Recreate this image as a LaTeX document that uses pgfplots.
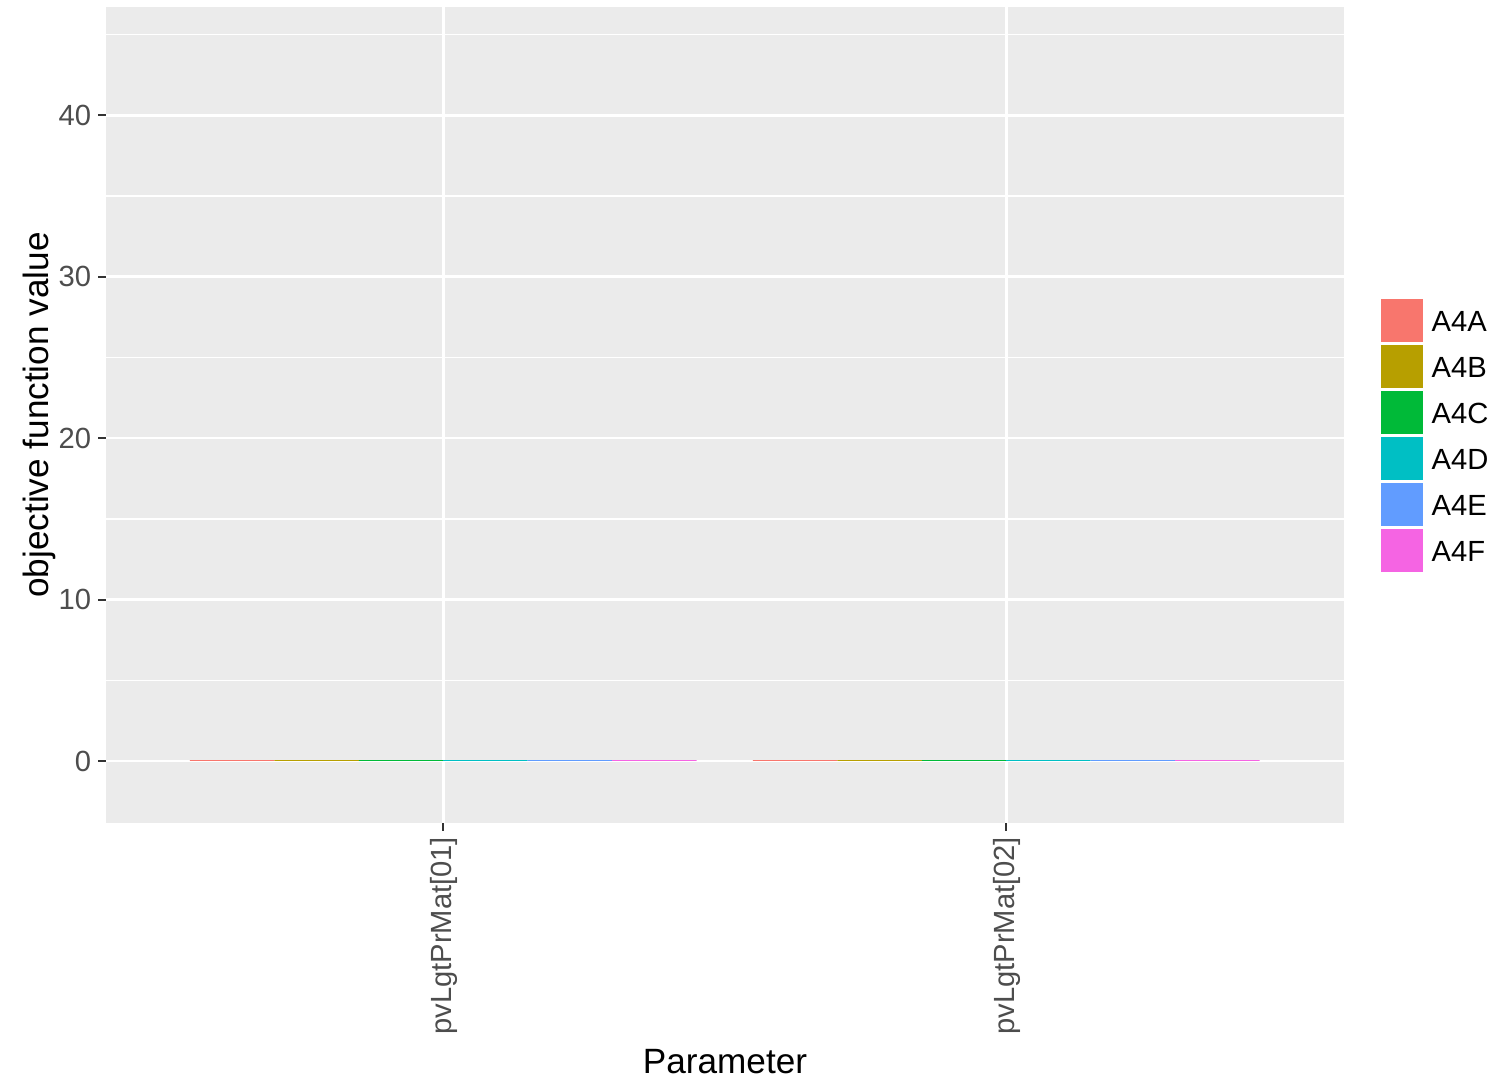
\documentclass[border=0pt]{standalone}
\usepackage{fontspec}
\setmainfont{Liberation Sans}
\usepackage{pgfplots}
\pgfplotsset{compat=1.18}
\definecolor{cA}{HTML}{F8766D}
\definecolor{cB}{HTML}{B79F00}
\definecolor{cC}{HTML}{00BA38}
\definecolor{cD}{HTML}{00BFC4}
\definecolor{cE}{HTML}{619CFF}
\definecolor{cF}{HTML}{F564E3}
\definecolor{bg}{HTML}{EBEBEB}
\definecolor{tickc}{HTML}{333333}
\definecolor{tlc}{HTML}{4D4D4D}
\pgfplotsset{
  mybar/.style={ybar, bar width=0.15, bar shift=0pt, draw=none, fill=#1,
    legend image code/.code={\fill[#1] (0cm,-0.18cm) rectangle (0.42cm,0.25cm); \path (0.51cm,0);}}
}
\begin{document}
\begin{tikzpicture}
\useasboundingbox (0,0) rectangle (15.03cm,10.82cm);
\begin{axis}[
  at={(1.06cm,2.59cm)}, anchor=south west,
  scale only axis, width=12.38cm, height=8.16cm,
  xmin=0.401, xmax=2.6, ymin=-3.84, ymax=46.7,
  xtick={1,2}, xticklabels={pvLgtPrMat[01],pvLgtPrMat[02]},
  ytick={0,10,20,30,40}, minor ytick={5,15,25,35,45},
  xtick pos=bottom, ytick pos=left,
  axis background/.style={fill=bg},
  axis line style={draw=none},
  tick align=outside, major tick length=0.075cm, minor tick length=0pt,
  tick style={color=tickc, line width=0.02cm},
  xmajorgrids, ymajorgrids, yminorgrids,
  major grid style={white, line width=0.027cm},
  minor grid style={white, line width=0.014cm},
  tick label style={font=\fontsize{8.3}{9.5}\selectfont, text=tlc},
  /pgf/number format/assume math mode=true,
  xticklabel style={rotate=90, anchor=east, xshift=0.06cm, yshift=-0.01cm},
  yticklabel style={xshift=0.05cm},
  label style={font=\fontsize{10.45}{12.5}\selectfont},
  xlabel={Parameter}, ylabel={objective function value},
  every axis x label/.style={at={(rel axis cs:0.5,0)}, yshift=-2.5cm, anchor=base},
  every axis y label/.style={at={(rel axis cs:0,0.5)}, xshift=-0.67cm, rotate=90, anchor=center},
  legend style={at={(1.0291,0.6434)}, anchor=north west, draw=none, fill=none,
    inner sep=0pt, row sep=0.03cm, nodes={inner sep=0pt, font=\fontsize{8.3}{9.5}\selectfont}},
  legend cell align=left,
]
\addplot[mybar=cA] coordinates {(0.625,0.06) (1.625,0.06)};
\addplot[mybar=cB] coordinates {(0.775,0.06) (1.775,0.06)};
\addplot[mybar=cC] coordinates {(0.925,0.06) (1.925,0.06)};
\addplot[mybar=cD] coordinates {(1.075,0.06) (2.075,0.06)};
\addplot[mybar=cE] coordinates {(1.225,0.06) (2.225,0.06)};
\addplot[mybar=cF] coordinates {(1.375,0.06) (2.375,0.06)};
\legend{A4A,A4B,A4C,A4D,A4E,A4F}
\end{axis}
\end{tikzpicture}
\end{document}
